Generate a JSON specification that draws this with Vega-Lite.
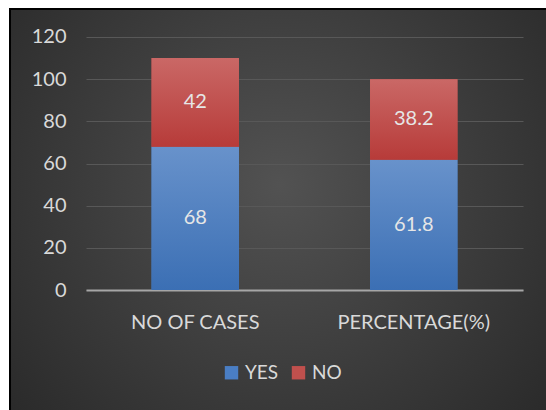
{
  "$schema": "https://vega.github.io/schema/vega-lite/v6.json",
  "width": 540,
  "height": 405,
  "autosize": {"type": "none"},
  "padding": {"left": 10, "top": 9, "right": 0, "bottom": 0},
  "background": "#ffffff",
  "config": {
    "view": {
      "fill": {"gradient": "radial", "x1": 0.5, "y1": 0.45, "r1": 0, "x2": 0.5, "y2": 0.45, "r2": 0.72,
        "stops": [{"offset": 0, "color": "#525252"}, {"offset": 1, "color": "#262626"}]},
      "stroke": "#000000",
      "strokeWidth": 2
    },
    "font": "Lato",
    "text": {"font": "Lato"}
  },
  "data": {
    "values": [
      {"c": "NO OF CASES", "s": "YES", "v": 68},
      {"c": "NO OF CASES", "s": "NO", "v": 42},
      {"c": "PERCENTAGE(%)", "s": "YES", "v": 61.8},
      {"c": "PERCENTAGE(%)", "s": "NO", "v": 38.2}
    ]
  },
  "transform": [
    {"stack": "v", "groupby": ["c"], "sort": [{"field": "s", "order": "descending"}], "as": ["v0", "v1"]},
    {"calculate": "(datum.v0 + datum.v1) / 2", "as": "vm"}
  ],
  "encoding": {
    "x": {
      "field": "c", "type": "nominal", "sort": ["NO OF CASES", "PERCENTAGE(%)"],
      "scale": {"range": [76, 513], "paddingInner": 0.6, "paddingOuter": 0.3},
      "axis": {
        "title": null, "offset": -124, "labelAngle": 0, "ticks": false, "tickSize": 0,
        "labelPadding": 22, "labelFontSize": 20, "labelColor": "#d9d9d9", "labelFont": "Lato",
        "domainColor": "#a6a6a6", "domainWidth": 2, "grid": false
      }
    }
  },
  "layer": [
    {
      "mark": {"type": "bar"},
      "encoding": {
        "y": {
          "field": "v0", "type": "quantitative",
          "scale": {"domain": [-58.81, 133.28], "nice": false, "zero": false},
          "axis": {
            "title": null, "offset": -76, "values": [0, 20, 40, 60, 80, 100, 120],
            "domain": false, "ticks": false, "tickSize": 0, "labelPadding": 20,
            "labelFontSize": 20, "labelColor": "#d9d9d9", "labelFont": "Lato",
            "grid": true, "gridColor": "#585858", "gridWidth": 1
          }
        },
        "y2": {"field": "v1"},
        "color": {
          "field": "s", "type": "nominal",
          "scale": {"domain": ["YES", "NO"], "range": ["#4a7ec4", "#c0504d"]},
          "legend": {
            "title": null, "orient": "none", "direction": "horizontal",
            "legendX": 212, "legendY": 354, "symbolType": "square", "symbolSize": 180,
            "symbolStrokeWidth": 0, "labelFontSize": 19, "labelColor": "#d9d9d9",
            "labelFont": "Lato", "columnPadding": 10, "labelOffset": 4
          }
        }
      }
    },
    {
      "mark": {"type": "bar"},
      "encoding": {
        "y": {"field": "v0", "type": "quantitative"},
        "y2": {"field": "v1"},
        "detail": {"field": "s"},
        "fill": {
          "condition": {
            "test": "datum.s === 'YES'",
            "value": {"gradient": "linear", "x1": 0, "y1": 0, "x2": 0, "y2": 1,
              "stops": [{"offset": 0, "color": "#6892cb"}, {"offset": 1, "color": "#3b6fb4"}]}
          },
          "value": {"gradient": "linear", "x1": 0, "y1": 0, "x2": 0, "y2": 1,
            "stops": [{"offset": 0, "color": "#ca6866"}, {"offset": 1, "color": "#b73b39"}]}
        }
      }
    },
    {
      "mark": {"type": "text", "fontSize": 20, "color": "#e6e6e6", "baseline": "middle"},
      "encoding": {
        "y": {"field": "vm", "type": "quantitative"},
        "text": {"field": "v", "type": "quantitative"}
      }
    }
  ]
}
